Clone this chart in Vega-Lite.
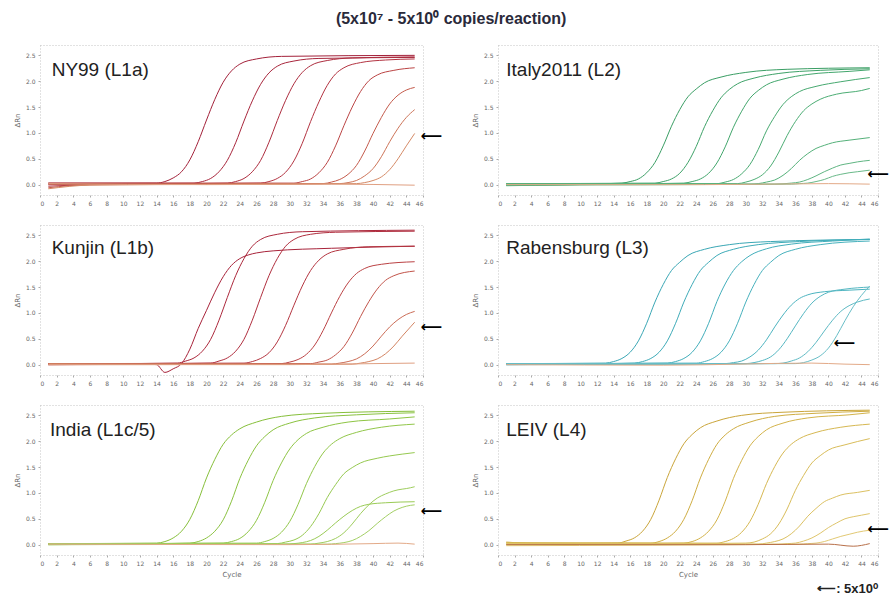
{
"$schema":"https://vega.github.io/schema/vega-lite/v6.json",
"background":"white",
"padding":{"left":12,"top":10,"right":0,"bottom":0},
"title":{"text":"(5x10⁷ - 5x10⁰ copies/reaction)","fontSize":16,"fontWeight":"bold","font":"Liberation Sans","color":"#2a2a3a","anchor":"middle","offset":18},
"columns":2,
"spacing":{"row":30,"column":75},
"bounds":"flush",
"resolve":{"scale":{"color":"independent","x":"independent","y":"independent"}},
"datasets":{
"NY99":[
{"run":1,"cycle":1,"rn":0.03},{"run":1,"cycle":14,"rn":0.03},{"run":1,"cycle":15,"rn":0.06},{"run":1,"cycle":16,"rn":0.13},{"run":1,"cycle":17,"rn":0.25},{"run":1,"cycle":18,"rn":0.48},{"run":1,"cycle":19,"rn":0.83},{"run":1,"cycle":20,"rn":1.25},{"run":1,"cycle":21,"rn":1.65},{"run":1,"cycle":22,"rn":1.98},{"run":1,"cycle":23,"rn":2.2},{"run":1,"cycle":24,"rn":2.33},{"run":1,"cycle":26,"rn":2.43},{"run":1,"cycle":29,"rn":2.48},{"run":1,"cycle":45,"rn":2.5},
{"run":2,"cycle":1,"rn":0.02},{"run":2,"cycle":18.5,"rn":0.03},{"run":2,"cycle":19.5,"rn":0.06},{"run":2,"cycle":20.5,"rn":0.12},{"run":2,"cycle":21.5,"rn":0.25},{"run":2,"cycle":22.5,"rn":0.47},{"run":2,"cycle":23.5,"rn":0.81},{"run":2,"cycle":24.5,"rn":1.23},{"run":2,"cycle":25.5,"rn":1.62},{"run":2,"cycle":26.5,"rn":1.94},{"run":2,"cycle":27.5,"rn":2.16},{"run":2,"cycle":28.5,"rn":2.29},{"run":2,"cycle":30.5,"rn":2.39},{"run":2,"cycle":33.5,"rn":2.44},{"run":2,"cycle":45,"rn":2.46},
{"run":3,"cycle":1,"rn":0.0},{"run":3,"cycle":22.5,"rn":0.03},{"run":3,"cycle":23.5,"rn":0.06},{"run":3,"cycle":24.5,"rn":0.12},{"run":3,"cycle":25.5,"rn":0.25},{"run":3,"cycle":26.5,"rn":0.47},{"run":3,"cycle":27.5,"rn":0.82},{"run":3,"cycle":28.5,"rn":1.24},{"run":3,"cycle":29.5,"rn":1.63},{"run":3,"cycle":30.5,"rn":1.95},{"run":3,"cycle":31.5,"rn":2.17},{"run":3,"cycle":32.5,"rn":2.3},{"run":3,"cycle":34.5,"rn":2.4},{"run":3,"cycle":37.5,"rn":2.45},{"run":3,"cycle":45,"rn":2.47},
{"run":4,"cycle":1,"rn":-0.03},{"run":4,"cycle":6,"rn":0.0},{"run":4,"cycle":26.5,"rn":0.03},{"run":4,"cycle":27.5,"rn":0.06},{"run":4,"cycle":28.5,"rn":0.12},{"run":4,"cycle":29.5,"rn":0.24},{"run":4,"cycle":30.5,"rn":0.46},{"run":4,"cycle":31.5,"rn":0.8},{"run":4,"cycle":32.5,"rn":1.22},{"run":4,"cycle":33.5,"rn":1.6},{"run":4,"cycle":34.5,"rn":1.92},{"run":4,"cycle":35.5,"rn":2.14},{"run":4,"cycle":36.5,"rn":2.26},{"run":4,"cycle":38.5,"rn":2.36},{"run":4,"cycle":41.5,"rn":2.41},{"run":4,"cycle":45,"rn":2.43},
{"run":5,"cycle":1,"rn":0.03},{"run":5,"cycle":30.5,"rn":0.03},{"run":5,"cycle":31.5,"rn":0.06},{"run":5,"cycle":32.5,"rn":0.11},{"run":5,"cycle":33.5,"rn":0.23},{"run":5,"cycle":34.5,"rn":0.43},{"run":5,"cycle":35.5,"rn":0.75},{"run":5,"cycle":36.5,"rn":1.14},{"run":5,"cycle":37.5,"rn":1.5},{"run":5,"cycle":38.5,"rn":1.8},{"run":5,"cycle":39.5,"rn":2.01},{"run":5,"cycle":40.5,"rn":2.12},{"run":5,"cycle":42.5,"rn":2.21},{"run":5,"cycle":45,"rn":2.26},
{"run":6,"cycle":1,"rn":-0.06},{"run":6,"cycle":6,"rn":0.0},{"run":6,"cycle":34,"rn":0.02},{"run":6,"cycle":35,"rn":0.05},{"run":6,"cycle":36,"rn":0.1},{"run":6,"cycle":37,"rn":0.2},{"run":6,"cycle":38,"rn":0.37},{"run":6,"cycle":39,"rn":0.65},{"run":6,"cycle":40,"rn":0.99},{"run":6,"cycle":41,"rn":1.3},{"run":6,"cycle":42,"rn":1.56},{"run":6,"cycle":43,"rn":1.73},{"run":6,"cycle":44,"rn":1.83},{"run":6,"cycle":45,"rn":1.88},
{"run":7,"cycle":1,"rn":0.01},{"run":7,"cycle":36,"rn":0.02},{"run":7,"cycle":37,"rn":0.04},{"run":7,"cycle":38,"rn":0.08},{"run":7,"cycle":39,"rn":0.17},{"run":7,"cycle":40,"rn":0.31},{"run":7,"cycle":41,"rn":0.54},{"run":7,"cycle":42,"rn":0.83},{"run":7,"cycle":43,"rn":1.09},{"run":7,"cycle":44,"rn":1.3},{"run":7,"cycle":45,"rn":1.45},
{"run":8,"cycle":1,"rn":-0.08},{"run":8,"cycle":6,"rn":-0.01},{"run":8,"cycle":38,"rn":0.02},{"run":8,"cycle":39,"rn":0.04},{"run":8,"cycle":40,"rn":0.08},{"run":8,"cycle":41,"rn":0.15},{"run":8,"cycle":42,"rn":0.29},{"run":8,"cycle":43,"rn":0.5},{"run":8,"cycle":44,"rn":0.75},{"run":8,"cycle":45,"rn":0.99},
{"run":"NTC","cycle":1,"rn":0.02},{"run":"NTC","cycle":20,"rn":0.0},{"run":"NTC","cycle":35,"rn":0.01},{"run":"NTC","cycle":45,"rn":-0.01}
],
"Italy":[
{"run":1,"cycle":1,"rn":-0.02},{"run":1,"cycle":15,"rn":0.03},{"run":1,"cycle":16,"rn":0.06},{"run":1,"cycle":17,"rn":0.11},{"run":1,"cycle":18,"rn":0.23},{"run":1,"cycle":19,"rn":0.43},{"run":1,"cycle":20,"rn":0.75},{"run":1,"cycle":21,"rn":1.13},{"run":1,"cycle":22,"rn":1.45},{"run":1,"cycle":23,"rn":1.7},{"run":1,"cycle":24,"rn":1.85},{"run":1,"cycle":25,"rn":1.97},{"run":1,"cycle":27,"rn":2.08},{"run":1,"cycle":30,"rn":2.17},{"run":1,"cycle":35,"rn":2.23},{"run":1,"cycle":45,"rn":2.26},
{"run":2,"cycle":1,"rn":0.02},{"run":2,"cycle":19,"rn":0.03},{"run":2,"cycle":20,"rn":0.06},{"run":2,"cycle":21,"rn":0.11},{"run":2,"cycle":22,"rn":0.22},{"run":2,"cycle":23,"rn":0.43},{"run":2,"cycle":24,"rn":0.74},{"run":2,"cycle":25,"rn":1.12},{"run":2,"cycle":26,"rn":1.43},{"run":2,"cycle":27,"rn":1.68},{"run":2,"cycle":28,"rn":1.84},{"run":2,"cycle":29,"rn":1.95},{"run":2,"cycle":31,"rn":2.06},{"run":2,"cycle":34,"rn":2.15},{"run":2,"cycle":39,"rn":2.21},{"run":2,"cycle":45,"rn":2.24},
{"run":3,"cycle":1,"rn":-0.01},{"run":3,"cycle":22.5,"rn":0.03},{"run":3,"cycle":23.5,"rn":0.06},{"run":3,"cycle":24.5,"rn":0.11},{"run":3,"cycle":25.5,"rn":0.22},{"run":3,"cycle":26.5,"rn":0.42},{"run":3,"cycle":27.5,"rn":0.73},{"run":3,"cycle":28.5,"rn":1.11},{"run":3,"cycle":29.5,"rn":1.42},{"run":3,"cycle":30.5,"rn":1.67},{"run":3,"cycle":31.5,"rn":1.82},{"run":3,"cycle":32.5,"rn":1.93},{"run":3,"cycle":34.5,"rn":2.04},{"run":3,"cycle":37.5,"rn":2.13},{"run":3,"cycle":42.5,"rn":2.19},{"run":3,"cycle":45,"rn":2.22},
{"run":4,"cycle":1,"rn":0.02},{"run":4,"cycle":26.5,"rn":0.02},{"run":4,"cycle":27.5,"rn":0.05},{"run":4,"cycle":28.5,"rn":0.1},{"run":4,"cycle":29.5,"rn":0.21},{"run":4,"cycle":30.5,"rn":0.39},{"run":4,"cycle":31.5,"rn":0.68},{"run":4,"cycle":32.5,"rn":1.04},{"run":4,"cycle":33.5,"rn":1.32},{"run":4,"cycle":34.5,"rn":1.55},{"run":4,"cycle":35.5,"rn":1.7},{"run":4,"cycle":36.5,"rn":1.8},{"run":4,"cycle":38.5,"rn":1.9},{"run":4,"cycle":41.5,"rn":1.99},{"run":4,"cycle":45,"rn":2.07},
{"run":5,"cycle":1,"rn":0.0},{"run":5,"cycle":29,"rn":0.02},{"run":5,"cycle":30,"rn":0.05},{"run":5,"cycle":31,"rn":0.1},{"run":5,"cycle":32,"rn":0.19},{"run":5,"cycle":33,"rn":0.36},{"run":5,"cycle":34,"rn":0.63},{"run":5,"cycle":35,"rn":0.95},{"run":5,"cycle":36,"rn":1.22},{"run":5,"cycle":37,"rn":1.43},{"run":5,"cycle":38,"rn":1.56},{"run":5,"cycle":39,"rn":1.65},{"run":5,"cycle":41,"rn":1.75},{"run":5,"cycle":44,"rn":1.82},{"run":5,"cycle":45,"rn":1.86},
{"run":6,"cycle":1,"rn":0.01},{"run":6,"cycle":30.5,"rn":0.01},{"run":6,"cycle":31.5,"rn":0.02},{"run":6,"cycle":32.5,"rn":0.05},{"run":6,"cycle":33.5,"rn":0.09},{"run":6,"cycle":34.5,"rn":0.18},{"run":6,"cycle":35.5,"rn":0.31},{"run":6,"cycle":36.5,"rn":0.47},{"run":6,"cycle":37.5,"rn":0.6},{"run":6,"cycle":38.5,"rn":0.7},{"run":6,"cycle":39.5,"rn":0.76},{"run":6,"cycle":40.5,"rn":0.81},{"run":6,"cycle":42.5,"rn":0.86},{"run":6,"cycle":45,"rn":0.91},
{"run":7,"cycle":1,"rn":-0.01},{"run":7,"cycle":33.5,"rn":0.01},{"run":7,"cycle":35.5,"rn":0.03},{"run":7,"cycle":36.5,"rn":0.05},{"run":7,"cycle":37.5,"rn":0.1},{"run":7,"cycle":38.5,"rn":0.17},{"run":7,"cycle":39.5,"rn":0.25},{"run":7,"cycle":40.5,"rn":0.32},{"run":7,"cycle":41.5,"rn":0.38},{"run":7,"cycle":42.5,"rn":0.41},{"run":7,"cycle":43.5,"rn":0.44},{"run":7,"cycle":45,"rn":0.47},
{"run":8,"cycle":1,"rn":0.01},{"run":8,"cycle":35.5,"rn":0.01},{"run":8,"cycle":36.5,"rn":0.02},{"run":8,"cycle":37.5,"rn":0.03},{"run":8,"cycle":38.5,"rn":0.06},{"run":8,"cycle":39.5,"rn":0.1},{"run":8,"cycle":40.5,"rn":0.16},{"run":8,"cycle":41.5,"rn":0.2},{"run":8,"cycle":42.5,"rn":0.23},{"run":8,"cycle":43.5,"rn":0.25},{"run":8,"cycle":45,"rn":0.28},
{"run":"NTC","cycle":1,"rn":0.0},{"run":"NTC","cycle":25,"rn":0.0},{"run":"NTC","cycle":40,"rn":0.02},{"run":"NTC","cycle":45,"rn":0.01}
],
"Kunjin":[
{"run":1,"cycle":1,"rn":0.02},{"run":1,"cycle":13,"rn":0.01},{"run":1,"cycle":14,"rn":0.0},{"run":1,"cycle":15,"rn":-0.15},{"run":1,"cycle":16,"rn":-0.08},{"run":1,"cycle":17,"rn":0.02},{"run":1,"cycle":18,"rn":0.3},{"run":1,"cycle":19,"rn":0.7},{"run":1,"cycle":20,"rn":1.05},{"run":1,"cycle":21,"rn":1.4},{"run":1,"cycle":22,"rn":1.7},{"run":1,"cycle":23,"rn":1.92},{"run":1,"cycle":24,"rn":2.05},{"run":1,"cycle":25,"rn":2.12},{"run":1,"cycle":26,"rn":2.16},{"run":1,"cycle":28,"rn":2.2},{"run":1,"cycle":35,"rn":2.25},{"run":1,"cycle":45,"rn":2.29},
{"run":2,"cycle":1,"rn":0.01},{"run":2,"cycle":16.5,"rn":0.03},{"run":2,"cycle":17.5,"rn":0.07},{"run":2,"cycle":18.5,"rn":0.13},{"run":2,"cycle":19.5,"rn":0.26},{"run":2,"cycle":20.5,"rn":0.49},{"run":2,"cycle":21.5,"rn":0.86},{"run":2,"cycle":22.5,"rn":1.3},{"run":2,"cycle":23.5,"rn":1.72},{"run":2,"cycle":24.5,"rn":2.05},{"run":2,"cycle":25.5,"rn":2.29},{"run":2,"cycle":26.5,"rn":2.42},{"run":2,"cycle":28.5,"rn":2.52},{"run":2,"cycle":31.5,"rn":2.57},{"run":2,"cycle":45,"rn":2.6},
{"run":3,"cycle":1,"rn":0.0},{"run":3,"cycle":20.5,"rn":0.03},{"run":3,"cycle":21.5,"rn":0.07},{"run":3,"cycle":22.5,"rn":0.13},{"run":3,"cycle":23.5,"rn":0.26},{"run":3,"cycle":24.5,"rn":0.49},{"run":3,"cycle":25.5,"rn":0.86},{"run":3,"cycle":26.5,"rn":1.3},{"run":3,"cycle":27.5,"rn":1.72},{"run":3,"cycle":28.5,"rn":2.05},{"run":3,"cycle":29.5,"rn":2.29},{"run":3,"cycle":30.5,"rn":2.42},{"run":3,"cycle":32.5,"rn":2.52},{"run":3,"cycle":35.5,"rn":2.56},{"run":3,"cycle":45,"rn":2.58},
{"run":4,"cycle":1,"rn":0.02},{"run":4,"cycle":24.5,"rn":0.03},{"run":4,"cycle":25.5,"rn":0.06},{"run":4,"cycle":26.5,"rn":0.12},{"run":4,"cycle":27.5,"rn":0.23},{"run":4,"cycle":28.5,"rn":0.44},{"run":4,"cycle":29.5,"rn":0.76},{"run":4,"cycle":30.5,"rn":1.15},{"run":4,"cycle":31.5,"rn":1.52},{"run":4,"cycle":32.5,"rn":1.82},{"run":4,"cycle":33.5,"rn":2.02},{"run":4,"cycle":34.5,"rn":2.14},{"run":4,"cycle":36.5,"rn":2.23},{"run":4,"cycle":39.5,"rn":2.28},{"run":4,"cycle":45,"rn":2.29},
{"run":5,"cycle":1,"rn":0.0},{"run":5,"cycle":29,"rn":0.02},{"run":5,"cycle":30,"rn":0.05},{"run":5,"cycle":31,"rn":0.1},{"run":5,"cycle":32,"rn":0.2},{"run":5,"cycle":33,"rn":0.38},{"run":5,"cycle":34,"rn":0.66},{"run":5,"cycle":35,"rn":1.0},{"run":5,"cycle":36,"rn":1.32},{"run":5,"cycle":37,"rn":1.58},{"run":5,"cycle":38,"rn":1.76},{"run":5,"cycle":39,"rn":1.86},{"run":5,"cycle":41,"rn":1.94},{"run":5,"cycle":45,"rn":1.99},
{"run":6,"cycle":1,"rn":0.01},{"run":6,"cycle":32.5,"rn":0.02},{"run":6,"cycle":33.5,"rn":0.05},{"run":6,"cycle":34.5,"rn":0.09},{"run":6,"cycle":35.5,"rn":0.19},{"run":6,"cycle":36.5,"rn":0.35},{"run":6,"cycle":37.5,"rn":0.61},{"run":6,"cycle":38.5,"rn":0.93},{"run":6,"cycle":39.5,"rn":1.22},{"run":6,"cycle":40.5,"rn":1.46},{"run":6,"cycle":41.5,"rn":1.63},{"run":6,"cycle":42.5,"rn":1.72},{"run":6,"cycle":45,"rn":1.81},
{"run":7,"cycle":1,"rn":0.0},{"run":7,"cycle":35,"rn":0.01},{"run":7,"cycle":36,"rn":0.03},{"run":7,"cycle":37,"rn":0.06},{"run":7,"cycle":38,"rn":0.11},{"run":7,"cycle":39,"rn":0.21},{"run":7,"cycle":40,"rn":0.36},{"run":7,"cycle":41,"rn":0.55},{"run":7,"cycle":42,"rn":0.73},{"run":7,"cycle":43,"rn":0.87},{"run":7,"cycle":44,"rn":0.97},{"run":7,"cycle":45,"rn":1.03},
{"run":8,"cycle":1,"rn":0.02},{"run":8,"cycle":37.5,"rn":0.01},{"run":8,"cycle":38.5,"rn":0.03},{"run":8,"cycle":39.5,"rn":0.06},{"run":8,"cycle":40.5,"rn":0.11},{"run":8,"cycle":41.5,"rn":0.21},{"run":8,"cycle":42.5,"rn":0.36},{"run":8,"cycle":43.5,"rn":0.55},{"run":8,"cycle":44.5,"rn":0.73},{"run":8,"cycle":45,"rn":0.82},
{"run":"NTC","cycle":1,"rn":0.0},{"run":"NTC","cycle":30,"rn":0.0},{"run":"NTC","cycle":40,"rn":0.02},{"run":"NTC","cycle":45,"rn":0.03}
],
"Rabensburg":[
{"run":1,"cycle":1,"rn":0.02},{"run":1,"cycle":13,"rn":0.03},{"run":1,"cycle":14,"rn":0.06},{"run":1,"cycle":15,"rn":0.12},{"run":1,"cycle":16,"rn":0.24},{"run":1,"cycle":17,"rn":0.46},{"run":1,"cycle":18,"rn":0.8},{"run":1,"cycle":19,"rn":1.21},{"run":1,"cycle":20,"rn":1.55},{"run":1,"cycle":21,"rn":1.82},{"run":1,"cycle":22,"rn":1.98},{"run":1,"cycle":23,"rn":2.11},{"run":1,"cycle":25,"rn":2.23},{"run":1,"cycle":28,"rn":2.32},{"run":1,"cycle":33,"rn":2.38},{"run":1,"cycle":45,"rn":2.42},
{"run":2,"cycle":1,"rn":0.0},{"run":2,"cycle":16.5,"rn":0.03},{"run":2,"cycle":17.5,"rn":0.06},{"run":2,"cycle":18.5,"rn":0.12},{"run":2,"cycle":19.5,"rn":0.24},{"run":2,"cycle":20.5,"rn":0.46},{"run":2,"cycle":21.5,"rn":0.8},{"run":2,"cycle":22.5,"rn":1.21},{"run":2,"cycle":23.5,"rn":1.55},{"run":2,"cycle":24.5,"rn":1.82},{"run":2,"cycle":25.5,"rn":1.98},{"run":2,"cycle":26.5,"rn":2.11},{"run":2,"cycle":28.5,"rn":2.23},{"run":2,"cycle":31.5,"rn":2.32},{"run":2,"cycle":36.5,"rn":2.38},{"run":2,"cycle":45,"rn":2.42},
{"run":3,"cycle":1,"rn":0.01},{"run":3,"cycle":20.5,"rn":0.03},{"run":3,"cycle":21.5,"rn":0.06},{"run":3,"cycle":22.5,"rn":0.12},{"run":3,"cycle":23.5,"rn":0.24},{"run":3,"cycle":24.5,"rn":0.46},{"run":3,"cycle":25.5,"rn":0.8},{"run":3,"cycle":26.5,"rn":1.22},{"run":3,"cycle":27.5,"rn":1.56},{"run":3,"cycle":28.5,"rn":1.82},{"run":3,"cycle":29.5,"rn":1.99},{"run":3,"cycle":30.5,"rn":2.11},{"run":3,"cycle":32.5,"rn":2.24},{"run":3,"cycle":35.5,"rn":2.33},{"run":3,"cycle":40.5,"rn":2.39},{"run":3,"cycle":45,"rn":2.43},
{"run":4,"cycle":1,"rn":0.02},{"run":4,"cycle":24,"rn":0.03},{"run":4,"cycle":25,"rn":0.06},{"run":4,"cycle":26,"rn":0.12},{"run":4,"cycle":27,"rn":0.24},{"run":4,"cycle":28,"rn":0.46},{"run":4,"cycle":29,"rn":0.8},{"run":4,"cycle":30,"rn":1.21},{"run":4,"cycle":31,"rn":1.55},{"run":4,"cycle":32,"rn":1.82},{"run":4,"cycle":33,"rn":1.98},{"run":4,"cycle":34,"rn":2.11},{"run":4,"cycle":36,"rn":2.23},{"run":4,"cycle":39,"rn":2.32},{"run":4,"cycle":45,"rn":2.39},
{"run":5,"cycle":1,"rn":0.0},{"run":5,"cycle":27.5,"rn":0.02},{"run":5,"cycle":28.5,"rn":0.04},{"run":5,"cycle":29.5,"rn":0.07},{"run":5,"cycle":30.5,"rn":0.15},{"run":5,"cycle":31.5,"rn":0.28},{"run":5,"cycle":32.5,"rn":0.48},{"run":5,"cycle":33.5,"rn":0.73},{"run":5,"cycle":34.5,"rn":0.96},{"run":5,"cycle":35.5,"rn":1.15},{"run":5,"cycle":36.5,"rn":1.28},{"run":5,"cycle":37.5,"rn":1.35},{"run":5,"cycle":39.5,"rn":1.41},{"run":5,"cycle":42.5,"rn":1.44},{"run":5,"cycle":45,"rn":1.46},
{"run":6,"cycle":1,"rn":0.01},{"run":6,"cycle":30,"rn":0.02},{"run":6,"cycle":31,"rn":0.04},{"run":6,"cycle":32,"rn":0.08},{"run":6,"cycle":33,"rn":0.15},{"run":6,"cycle":34,"rn":0.29},{"run":6,"cycle":35,"rn":0.5},{"run":6,"cycle":36,"rn":0.75},{"run":6,"cycle":37,"rn":0.99},{"run":6,"cycle":38,"rn":1.19},{"run":6,"cycle":39,"rn":1.32},{"run":6,"cycle":40,"rn":1.4},{"run":6,"cycle":42,"rn":1.46},{"run":6,"cycle":45,"rn":1.5},
{"run":7,"cycle":1,"rn":0.0},{"run":7,"cycle":33.5,"rn":0.02},{"run":7,"cycle":34.5,"rn":0.03},{"run":7,"cycle":35.5,"rn":0.07},{"run":7,"cycle":36.5,"rn":0.13},{"run":7,"cycle":37.5,"rn":0.25},{"run":7,"cycle":38.5,"rn":0.43},{"run":7,"cycle":39.5,"rn":0.65},{"run":7,"cycle":40.5,"rn":0.86},{"run":7,"cycle":41.5,"rn":1.03},{"run":7,"cycle":42.5,"rn":1.14},{"run":7,"cycle":43.5,"rn":1.21},{"run":7,"cycle":45,"rn":1.27},
{"run":8,"cycle":1,"rn":0.02},{"run":8,"cycle":36,"rn":0.02},{"run":8,"cycle":37,"rn":0.04},{"run":8,"cycle":38,"rn":0.09},{"run":8,"cycle":39,"rn":0.17},{"run":8,"cycle":40,"rn":0.32},{"run":8,"cycle":41,"rn":0.56},{"run":8,"cycle":42,"rn":0.85},{"run":8,"cycle":43,"rn":1.12},{"run":8,"cycle":44,"rn":1.34},{"run":8,"cycle":45,"rn":1.52},
{"run":"NTC","cycle":1,"rn":0.0},{"run":"NTC","cycle":20,"rn":-0.01},{"run":"NTC","cycle":38,"rn":0.03},{"run":"NTC","cycle":42,"rn":0.01},{"run":"NTC","cycle":45,"rn":0.0}
],
"India":[
{"run":1,"cycle":1,"rn":0.02},{"run":1,"cycle":14,"rn":0.03},{"run":1,"cycle":15,"rn":0.06},{"run":1,"cycle":16,"rn":0.13},{"run":1,"cycle":17,"rn":0.26},{"run":1,"cycle":18,"rn":0.49},{"run":1,"cycle":19,"rn":0.85},{"run":1,"cycle":20,"rn":1.29},{"run":1,"cycle":21,"rn":1.65},{"run":1,"cycle":22,"rn":1.94},{"run":1,"cycle":23,"rn":2.12},{"run":1,"cycle":24,"rn":2.24},{"run":1,"cycle":26,"rn":2.37},{"run":1,"cycle":29,"rn":2.48},{"run":1,"cycle":34,"rn":2.54},{"run":1,"cycle":45,"rn":2.58},
{"run":2,"cycle":1,"rn":0.0},{"run":2,"cycle":18,"rn":0.03},{"run":2,"cycle":19,"rn":0.06},{"run":2,"cycle":20,"rn":0.13},{"run":2,"cycle":21,"rn":0.26},{"run":2,"cycle":22,"rn":0.48},{"run":2,"cycle":23,"rn":0.84},{"run":2,"cycle":24,"rn":1.28},{"run":2,"cycle":25,"rn":1.63},{"run":2,"cycle":26,"rn":1.91},{"run":2,"cycle":27,"rn":2.09},{"run":2,"cycle":28,"rn":2.22},{"run":2,"cycle":30,"rn":2.35},{"run":2,"cycle":33,"rn":2.45},{"run":2,"cycle":38,"rn":2.51},{"run":2,"cycle":45,"rn":2.55},
{"run":3,"cycle":1,"rn":0.01},{"run":3,"cycle":22,"rn":0.03},{"run":3,"cycle":23,"rn":0.06},{"run":3,"cycle":24,"rn":0.12},{"run":3,"cycle":25,"rn":0.25},{"run":3,"cycle":26,"rn":0.47},{"run":3,"cycle":27,"rn":0.82},{"run":3,"cycle":28,"rn":1.24},{"run":3,"cycle":29,"rn":1.58},{"run":3,"cycle":30,"rn":1.85},{"run":3,"cycle":31,"rn":2.03},{"run":3,"cycle":32,"rn":2.15},{"run":3,"cycle":34,"rn":2.27},{"run":3,"cycle":37,"rn":2.37},{"run":3,"cycle":42,"rn":2.43},{"run":3,"cycle":45,"rn":2.47},
{"run":4,"cycle":1,"rn":0.02},{"run":4,"cycle":26,"rn":0.03},{"run":4,"cycle":27,"rn":0.06},{"run":4,"cycle":28,"rn":0.12},{"run":4,"cycle":29,"rn":0.24},{"run":4,"cycle":30,"rn":0.45},{"run":4,"cycle":31,"rn":0.78},{"run":4,"cycle":32,"rn":1.18},{"run":4,"cycle":33,"rn":1.51},{"run":4,"cycle":34,"rn":1.77},{"run":4,"cycle":35,"rn":1.94},{"run":4,"cycle":36,"rn":2.05},{"run":4,"cycle":38,"rn":2.17},{"run":4,"cycle":41,"rn":2.27},{"run":4,"cycle":45,"rn":2.33},
{"run":5,"cycle":1,"rn":0.0},{"run":5,"cycle":28.5,"rn":0.02},{"run":5,"cycle":29.5,"rn":0.05},{"run":5,"cycle":30.5,"rn":0.09},{"run":5,"cycle":31.5,"rn":0.18},{"run":5,"cycle":32.5,"rn":0.35},{"run":5,"cycle":33.5,"rn":0.6},{"run":5,"cycle":34.5,"rn":0.91},{"run":5,"cycle":35.5,"rn":1.16},{"run":5,"cycle":36.5,"rn":1.37},{"run":5,"cycle":37.5,"rn":1.49},{"run":5,"cycle":38.5,"rn":1.58},{"run":5,"cycle":40.5,"rn":1.67},{"run":5,"cycle":43.5,"rn":1.75},{"run":5,"cycle":45,"rn":1.78},
{"run":6,"cycle":1,"rn":0.01},{"run":6,"cycle":29.5,"rn":0.01},{"run":6,"cycle":30.5,"rn":0.02},{"run":6,"cycle":31.5,"rn":0.04},{"run":6,"cycle":32.5,"rn":0.08},{"run":6,"cycle":33.5,"rn":0.16},{"run":6,"cycle":34.5,"rn":0.28},{"run":6,"cycle":35.5,"rn":0.42},{"run":6,"cycle":36.5,"rn":0.55},{"run":6,"cycle":37.5,"rn":0.66},{"run":6,"cycle":38.5,"rn":0.74},{"run":6,"cycle":39.5,"rn":0.78},{"run":6,"cycle":41.5,"rn":0.81},{"run":6,"cycle":45,"rn":0.83},
{"run":7,"cycle":1,"rn":0.0},{"run":7,"cycle":32.5,"rn":0.01},{"run":7,"cycle":33.5,"rn":0.03},{"run":7,"cycle":34.5,"rn":0.06},{"run":7,"cycle":35.5,"rn":0.12},{"run":7,"cycle":36.5,"rn":0.23},{"run":7,"cycle":37.5,"rn":0.4},{"run":7,"cycle":38.5,"rn":0.6},{"run":7,"cycle":39.5,"rn":0.77},{"run":7,"cycle":40.5,"rn":0.9},{"run":7,"cycle":41.5,"rn":0.98},{"run":7,"cycle":42.5,"rn":1.04},{"run":7,"cycle":44.5,"rn":1.1},{"run":7,"cycle":45,"rn":1.12},
{"run":8,"cycle":1,"rn":0.02},{"run":8,"cycle":34.5,"rn":0.01},{"run":8,"cycle":35.5,"rn":0.02},{"run":8,"cycle":36.5,"rn":0.04},{"run":8,"cycle":37.5,"rn":0.08},{"run":8,"cycle":38.5,"rn":0.16},{"run":8,"cycle":39.5,"rn":0.27},{"run":8,"cycle":40.5,"rn":0.41},{"run":8,"cycle":41.5,"rn":0.54},{"run":8,"cycle":42.5,"rn":0.65},{"run":8,"cycle":43.5,"rn":0.72},{"run":8,"cycle":44.5,"rn":0.76},{"run":8,"cycle":45,"rn":0.77},
{"run":"NTC","cycle":1,"rn":0.01},{"run":"NTC","cycle":30,"rn":0.0},{"run":"NTC","cycle":40,"rn":0.02},{"run":"NTC","cycle":43,"rn":0.03},{"run":"NTC","cycle":45,"rn":0.01}
],
"LEIV":[
{"run":1,"cycle":1,"rn":0.05},{"run":1,"cycle":5,"rn":0.02},{"run":1,"cycle":14.5,"rn":0.03},{"run":1,"cycle":15.5,"rn":0.07},{"run":1,"cycle":16.5,"rn":0.13},{"run":1,"cycle":17.5,"rn":0.26},{"run":1,"cycle":18.5,"rn":0.49},{"run":1,"cycle":19.5,"rn":0.86},{"run":1,"cycle":20.5,"rn":1.3},{"run":1,"cycle":21.5,"rn":1.66},{"run":1,"cycle":22.5,"rn":1.95},{"run":1,"cycle":23.5,"rn":2.13},{"run":1,"cycle":24.5,"rn":2.26},{"run":1,"cycle":26.5,"rn":2.39},{"run":1,"cycle":29.5,"rn":2.5},{"run":1,"cycle":34.5,"rn":2.56},{"run":1,"cycle":45,"rn":2.6},
{"run":2,"cycle":1,"rn":0.03},{"run":2,"cycle":18.5,"rn":0.03},{"run":2,"cycle":19.5,"rn":0.06},{"run":2,"cycle":20.5,"rn":0.13},{"run":2,"cycle":21.5,"rn":0.26},{"run":2,"cycle":22.5,"rn":0.49},{"run":2,"cycle":23.5,"rn":0.85},{"run":2,"cycle":24.5,"rn":1.29},{"run":2,"cycle":25.5,"rn":1.65},{"run":2,"cycle":26.5,"rn":1.94},{"run":2,"cycle":27.5,"rn":2.12},{"run":2,"cycle":28.5,"rn":2.24},{"run":2,"cycle":30.5,"rn":2.37},{"run":2,"cycle":33.5,"rn":2.48},{"run":2,"cycle":38.5,"rn":2.54},{"run":2,"cycle":45,"rn":2.58},
{"run":3,"cycle":1,"rn":0.0},{"run":3,"cycle":22.5,"rn":0.03},{"run":3,"cycle":23.5,"rn":0.06},{"run":3,"cycle":24.5,"rn":0.13},{"run":3,"cycle":25.5,"rn":0.26},{"run":3,"cycle":26.5,"rn":0.48},{"run":3,"cycle":27.5,"rn":0.84},{"run":3,"cycle":28.5,"rn":1.28},{"run":3,"cycle":29.5,"rn":1.63},{"run":3,"cycle":30.5,"rn":1.91},{"run":3,"cycle":31.5,"rn":2.09},{"run":3,"cycle":32.5,"rn":2.22},{"run":3,"cycle":34.5,"rn":2.35},{"run":3,"cycle":37.5,"rn":2.45},{"run":3,"cycle":42.5,"rn":2.51},{"run":3,"cycle":45,"rn":2.55},
{"run":4,"cycle":1,"rn":0.04},{"run":4,"cycle":26.5,"rn":0.03},{"run":4,"cycle":27.5,"rn":0.06},{"run":4,"cycle":28.5,"rn":0.12},{"run":4,"cycle":29.5,"rn":0.24},{"run":4,"cycle":30.5,"rn":0.45},{"run":4,"cycle":31.5,"rn":0.78},{"run":4,"cycle":32.5,"rn":1.18},{"run":4,"cycle":33.5,"rn":1.51},{"run":4,"cycle":34.5,"rn":1.77},{"run":4,"cycle":35.5,"rn":1.94},{"run":4,"cycle":36.5,"rn":2.05},{"run":4,"cycle":38.5,"rn":2.17},{"run":4,"cycle":41.5,"rn":2.27},{"run":4,"cycle":45,"rn":2.33},
{"run":5,"cycle":1,"rn":0.0},{"run":5,"cycle":30,"rn":0.03},{"run":5,"cycle":31,"rn":0.05},{"run":5,"cycle":32,"rn":0.11},{"run":5,"cycle":33,"rn":0.21},{"run":5,"cycle":34,"rn":0.4},{"run":5,"cycle":35,"rn":0.69},{"run":5,"cycle":36,"rn":1.05},{"run":5,"cycle":37,"rn":1.34},{"run":5,"cycle":38,"rn":1.58},{"run":5,"cycle":39,"rn":1.72},{"run":5,"cycle":40,"rn":1.83},{"run":5,"cycle":42,"rn":1.93},{"run":5,"cycle":45,"rn":2.05},
{"run":6,"cycle":1,"rn":0.02},{"run":6,"cycle":31.5,"rn":0.01},{"run":6,"cycle":32.5,"rn":0.03},{"run":6,"cycle":33.5,"rn":0.06},{"run":6,"cycle":34.5,"rn":0.11},{"run":6,"cycle":35.5,"rn":0.21},{"run":6,"cycle":36.5,"rn":0.36},{"run":6,"cycle":37.5,"rn":0.55},{"run":6,"cycle":38.5,"rn":0.7},{"run":6,"cycle":39.5,"rn":0.83},{"run":6,"cycle":40.5,"rn":0.9},{"run":6,"cycle":41.5,"rn":0.96},{"run":6,"cycle":43.5,"rn":1.01},{"run":6,"cycle":45,"rn":1.05},
{"run":7,"cycle":1,"rn":0.01},{"run":7,"cycle":34,"rn":0.01},{"run":7,"cycle":35,"rn":0.02},{"run":7,"cycle":36,"rn":0.03},{"run":7,"cycle":37,"rn":0.07},{"run":7,"cycle":38,"rn":0.13},{"run":7,"cycle":39,"rn":0.22},{"run":7,"cycle":40,"rn":0.33},{"run":7,"cycle":41,"rn":0.42},{"run":7,"cycle":42,"rn":0.5},{"run":7,"cycle":43,"rn":0.54},{"run":7,"cycle":44,"rn":0.57},{"run":7,"cycle":45,"rn":0.6},
{"run":8,"cycle":1,"rn":-0.02},{"run":8,"cycle":36.5,"rn":0.01},{"run":8,"cycle":37.5,"rn":0.02},{"run":8,"cycle":38.5,"rn":0.03},{"run":8,"cycle":39.5,"rn":0.06},{"run":8,"cycle":40.5,"rn":0.11},{"run":8,"cycle":41.5,"rn":0.16},{"run":8,"cycle":42.5,"rn":0.2},{"run":8,"cycle":43.5,"rn":0.24},{"run":8,"cycle":45,"rn":0.28},
{"run":"NTC","cycle":1,"rn":0.0},{"run":"NTC","cycle":30,"rn":0.0},{"run":"NTC","cycle":40,"rn":0.01},{"run":"NTC","cycle":43,"rn":-0.03},{"run":"NTC","cycle":45,"rn":0.02}
]
},
"concat":[
{"width":383,"height":150,"layer":[
 {"data":{"name":"NY99"},"transform":[{"filter":"datum.run !== 'NTC'"}],"mark":{"type":"line","interpolate":"monotone","strokeWidth":1},
  "encoding":{"x":{"field":"cycle","type":"quantitative","scale":{"domain":[0,46],"nice":false,"zero":false},"axis":{"tickCount":24,"labelOverlap":false,"labelFontSize":6,"title":null}},
   "y":{"field":"rn","type":"quantitative","scale":{"domain":[-0.2,2.7],"nice":false,"zero":false},"axis":{"tickCount":6,"labelOverlap":false,"labelFontSize":6,"format":".1f","title":"ΔRn"}},
   "detail":{"field":"run"},
   "color":{"field":"run","type":"nominal","scale":{"domain":[1,2,3,4,5,6,7,8],"range":["#a3213a","#a8263c","#ad2c3e","#b33341","#bb4444","#c45a4b","#cd7458","#d58a66"]},"legend":null}}},
 {"data":{"name":"NY99"},"transform":[{"filter":"datum.run === 'NTC'"}],"mark":{"type":"line","interpolate":"monotone","strokeWidth":1,"color":"#e0a082"},"encoding":{"x":{"field":"cycle","type":"quantitative"},"y":{"field":"rn","type":"quantitative"}}},
 {"data":{"values":[{"label":"NY99 (L1a)"}]},"mark":{"type":"text","align":"left","baseline":"middle","fontSize":19,"font":"Liberation Sans","color":"#222"},"encoding":{"x":{"datum":1.4,"type":"quantitative"},"y":{"datum":2.22,"type":"quantitative"},"text":{"field":"label"}}},
 {"data":{"values":[{"sign":"⟵"}]},"mark":{"type":"text","align":"left","baseline":"middle","fontSize":15,"fontWeight":"bold","font":"DejaVu Sans","color":"#000"},"encoding":{"x":{"datum":45.7,"type":"quantitative"},"y":{"datum":0.94,"type":"quantitative"},"text":{"field":"sign"}}}
]},
{"width":380,"height":150,"layer":[
 {"data":{"name":"Italy"},"transform":[{"filter":"datum.run !== 'NTC'"}],"mark":{"type":"line","interpolate":"monotone","strokeWidth":1},
  "encoding":{"x":{"field":"cycle","type":"quantitative","scale":{"domain":[0,46],"nice":false,"zero":false},"axis":{"tickCount":24,"labelOverlap":false,"labelFontSize":6,"title":null}},
   "y":{"field":"rn","type":"quantitative","scale":{"domain":[-0.2,2.7],"nice":false,"zero":false},"axis":{"tickCount":6,"labelOverlap":false,"labelFontSize":6,"format":".1f","title":"ΔRn"}},
   "detail":{"field":"run"},
   "color":{"field":"run","type":"nominal","scale":{"domain":[1,2,3,4,5,6,7,8],"range":["#3a9e64","#3ea268","#42a66c","#47a970","#4cad74","#55b17a","#5fb582","#69b989"]},"legend":null}}},
 {"data":{"name":"Italy"},"transform":[{"filter":"datum.run === 'NTC'"}],"mark":{"type":"line","interpolate":"monotone","strokeWidth":1,"color":"#e3aa88"},"encoding":{"x":{"field":"cycle","type":"quantitative"},"y":{"field":"rn","type":"quantitative"}}},
 {"data":{"values":[{"label":"Italy2011 (L2)"}]},"mark":{"type":"text","align":"left","baseline":"middle","fontSize":19,"font":"Liberation Sans","color":"#222"},"encoding":{"x":{"datum":1.0,"type":"quantitative"},"y":{"datum":2.22,"type":"quantitative"},"text":{"field":"label"}}},
 {"data":{"values":[{"sign":"⟵"}]},"mark":{"type":"text","align":"left","baseline":"middle","fontSize":15,"fontWeight":"bold","font":"DejaVu Sans","color":"#000"},"encoding":{"x":{"datum":44.7,"type":"quantitative"},"y":{"datum":0.2,"type":"quantitative"},"text":{"field":"sign"}}}
]},
{"width":383,"height":150,"layer":[
 {"data":{"name":"Kunjin"},"transform":[{"filter":"datum.run !== 'NTC'"}],"mark":{"type":"line","interpolate":"monotone","strokeWidth":1},
  "encoding":{"x":{"field":"cycle","type":"quantitative","scale":{"domain":[0,46],"nice":false,"zero":false},"axis":{"tickCount":24,"labelOverlap":false,"labelFontSize":6,"title":null}},
   "y":{"field":"rn","type":"quantitative","scale":{"domain":[-0.2,2.7],"nice":false,"zero":false},"axis":{"tickCount":6,"labelOverlap":false,"labelFontSize":6,"format":".1f","title":"ΔRn"}},
   "detail":{"field":"run"},
   "color":{"field":"run","type":"nominal","scale":{"domain":[1,2,3,4,5,6,7,8],"range":["#a8233a","#ac283c","#b02e3e","#b43540","#bb4244","#c2544a","#cb6c56","#d38462"]},"legend":null}}},
 {"data":{"name":"Kunjin"},"transform":[{"filter":"datum.run === 'NTC'"}],"mark":{"type":"line","interpolate":"monotone","strokeWidth":1,"color":"#e0a082"},"encoding":{"x":{"field":"cycle","type":"quantitative"},"y":{"field":"rn","type":"quantitative"}}},
 {"data":{"values":[{"label":"Kunjin (L1b)"}]},"mark":{"type":"text","align":"left","baseline":"middle","fontSize":19,"font":"Liberation Sans","color":"#222"},"encoding":{"x":{"datum":1.4,"type":"quantitative"},"y":{"datum":2.25,"type":"quantitative"},"text":{"field":"label"}}},
 {"data":{"values":[{"sign":"⟵"}]},"mark":{"type":"text","align":"left","baseline":"middle","fontSize":15,"fontWeight":"bold","font":"DejaVu Sans","color":"#000"},"encoding":{"x":{"datum":45.7,"type":"quantitative"},"y":{"datum":0.72,"type":"quantitative"},"text":{"field":"sign"}}}
]},
{"width":380,"height":150,"layer":[
 {"data":{"name":"Rabensburg"},"transform":[{"filter":"datum.run !== 'NTC'"}],"mark":{"type":"line","interpolate":"monotone","strokeWidth":1},
  "encoding":{"x":{"field":"cycle","type":"quantitative","scale":{"domain":[0,46],"nice":false,"zero":false},"axis":{"tickCount":24,"labelOverlap":false,"labelFontSize":6,"title":null}},
   "y":{"field":"rn","type":"quantitative","scale":{"domain":[-0.2,2.7],"nice":false,"zero":false},"axis":{"tickCount":6,"labelOverlap":false,"labelFontSize":6,"format":".1f","title":"ΔRn"}},
   "detail":{"field":"run"},
   "color":{"field":"run","type":"nominal","scale":{"domain":[1,2,3,4,5,6,7,8],"range":["#3aa7b5","#3eabb8","#42aebb","#47b1bd","#4cb4c0","#55b7c2","#5ebac4","#68bec7"]},"legend":null}}},
 {"data":{"name":"Rabensburg"},"transform":[{"filter":"datum.run === 'NTC'"}],"mark":{"type":"line","interpolate":"monotone","strokeWidth":1,"color":"#e3aa88"},"encoding":{"x":{"field":"cycle","type":"quantitative"},"y":{"field":"rn","type":"quantitative"}}},
 {"data":{"values":[{"label":"Rabensburg (L3)"}]},"mark":{"type":"text","align":"left","baseline":"middle","fontSize":19,"font":"Liberation Sans","color":"#222"},"encoding":{"x":{"datum":1.0,"type":"quantitative"},"y":{"datum":2.25,"type":"quantitative"},"text":{"field":"label"}}},
 {"data":{"values":[{"sign":"⟵"}]},"mark":{"type":"text","align":"left","baseline":"middle","fontSize":15,"fontWeight":"bold","font":"DejaVu Sans","color":"#000"},"encoding":{"x":{"datum":40.6,"type":"quantitative"},"y":{"datum":0.42,"type":"quantitative"},"text":{"field":"sign"}}}
]},
{"width":383,"height":150,"layer":[
 {"data":{"name":"India"},"transform":[{"filter":"datum.run !== 'NTC'"}],"mark":{"type":"line","interpolate":"monotone","strokeWidth":1},
  "encoding":{"x":{"field":"cycle","type":"quantitative","scale":{"domain":[0,46],"nice":false,"zero":false},"axis":{"tickCount":24,"labelOverlap":false,"labelFontSize":6,"title":"Cycle"}},
   "y":{"field":"rn","type":"quantitative","scale":{"domain":[-0.2,2.7],"nice":false,"zero":false},"axis":{"tickCount":6,"labelOverlap":false,"labelFontSize":6,"format":".1f","title":"ΔRn"}},
   "detail":{"field":"run"},
   "color":{"field":"run","type":"nominal","scale":{"domain":[1,2,3,4,5,6,7,8],"range":["#86bf3a","#8ac23f","#8ec544","#92c74a","#96c950","#9acb56","#9ecd5d","#a3cf64"]},"legend":null}}},
 {"data":{"name":"India"},"transform":[{"filter":"datum.run === 'NTC'"}],"mark":{"type":"line","interpolate":"monotone","strokeWidth":1,"color":"#e3aa88"},"encoding":{"x":{"field":"cycle","type":"quantitative"},"y":{"field":"rn","type":"quantitative"}}},
 {"data":{"values":[{"label":"India (L1c/5)"}]},"mark":{"type":"text","align":"left","baseline":"middle","fontSize":19,"font":"Liberation Sans","color":"#222"},"encoding":{"x":{"datum":1.2,"type":"quantitative"},"y":{"datum":2.22,"type":"quantitative"},"text":{"field":"label"}}},
 {"data":{"values":[{"sign":"⟵"}]},"mark":{"type":"text","align":"left","baseline":"middle","fontSize":15,"fontWeight":"bold","font":"DejaVu Sans","color":"#000"},"encoding":{"x":{"datum":45.7,"type":"quantitative"},"y":{"datum":0.65,"type":"quantitative"},"text":{"field":"sign"}}}
]},
{"width":380,"height":150,
 "title":{"text":"⟵: 5x10⁰","orient":"bottom","anchor":"end","frame":"group","fontSize":13,"fontWeight":"bold","font":"Liberation Sans","color":"#222","offset":6},
 "layer":[
 {"data":{"name":"LEIV"},"transform":[{"filter":"datum.run !== 'NTC'"}],"mark":{"type":"line","interpolate":"monotone","strokeWidth":1},
  "encoding":{"x":{"field":"cycle","type":"quantitative","scale":{"domain":[0,46],"nice":false,"zero":false},"axis":{"tickCount":24,"labelOverlap":false,"labelFontSize":6,"title":"Cycle"}},
   "y":{"field":"rn","type":"quantitative","scale":{"domain":[-0.2,2.7],"nice":false,"zero":false},"axis":{"tickCount":6,"labelOverlap":false,"labelFontSize":6,"format":".1f","title":"ΔRn"}},
   "detail":{"field":"run"},
   "color":{"field":"run","type":"nominal","scale":{"domain":[1,2,3,4,5,6,7,8],"range":["#caa53a","#cfad42","#d3b34a","#d6b852","#d9bd5a","#dcc162","#dfc56b","#e2c974"]},"legend":null}}},
 {"data":{"name":"LEIV"},"transform":[{"filter":"datum.run === 'NTC'"}],"mark":{"type":"line","interpolate":"monotone","strokeWidth":1,"color":"#b8704a"},"encoding":{"x":{"field":"cycle","type":"quantitative"},"y":{"field":"rn","type":"quantitative"}}},
 {"data":{"values":[{"label":"LEIV (L4)"}]},"mark":{"type":"text","align":"left","baseline":"middle","fontSize":19,"font":"Liberation Sans","color":"#222"},"encoding":{"x":{"datum":1.0,"type":"quantitative"},"y":{"datum":2.22,"type":"quantitative"},"text":{"field":"label"}}},
 {"data":{"values":[{"sign":"⟵"}]},"mark":{"type":"text","align":"left","baseline":"middle","fontSize":15,"fontWeight":"bold","font":"DejaVu Sans","color":"#000"},"encoding":{"x":{"datum":44.7,"type":"quantitative"},"y":{"datum":0.3,"type":"quantitative"},"text":{"field":"sign"}}}
]}
],
"config":{
 "view":{"stroke":"#c4c4c4","strokeDash":[1,2],"strokeWidth":1},
 "axis":{"grid":false,"domain":false,"tickSize":2,"tickColor":"#aaa","labelColor":"#666","labelFont":"DejaVu Sans","titleFont":"DejaVu Sans","titleFontWeight":"normal","titleColor":"#666","titleFontSize":7,"labelOverlap":false,"labelBound":false},
 "axisX":{"labelPadding":3,"titlePadding":4},
 "axisY":{"labelPadding":3,"titlePadding":5}
}
}
